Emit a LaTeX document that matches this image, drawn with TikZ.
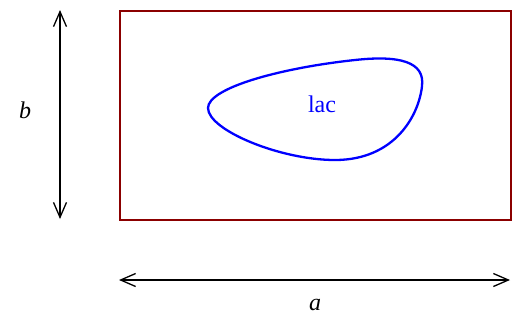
\documentclass[tikz,border=0pt]{standalone}
\usepackage{fontspec}
\setmainfont{Liberation Serif}
\usetikzlibrary{arrows.meta}
\definecolor{darkred}{RGB}{139,0,0}
\begin{document}
\begin{tikzpicture}[x=1pt,y=-1pt,
  tipx/.tip={Straight Barb[length=15pt,width=13pt,line width=1.3pt]},
  dim/.style={tipx-tipx, line width=1.3pt, black},
  lbl/.style={font=\fontsize{24}{28}\selectfont\itshape, inner sep=0pt}]
\useasboundingbox (0,0) rectangle (529,330);
\node[draw=darkred, line width=2.2pt, minimum width=391pt, minimum height=209pt, inner sep=0pt, anchor=north west] (field) at (119,10) {};
\coordinate (bt) at (60,10);
\coordinate (bb) at (60,219);
\draw[dim] (bt) -- (bb);
\node[lbl] (b) at (25,110) {b};
\coordinate (al) at (119,280);
\coordinate (ar) at (510,280);
\draw[dim] (al) -- (ar);
\node[lbl] (a) at (315,305) {a};
\draw[blue, line width=2.3pt] (208,108) .. controls (208,88) and (280,68) .. (355,60) .. controls (400,55) and (425,62) .. (422,86) .. controls (419,115) and (395,160) .. (335,160) .. controls (280,160) and (208,130) .. cycle;
\node[blue, font=\fontsize{24}{28}\selectfont, inner sep=0pt] (lac) at (322,104) {lac};
\end{tikzpicture}
\end{document}
